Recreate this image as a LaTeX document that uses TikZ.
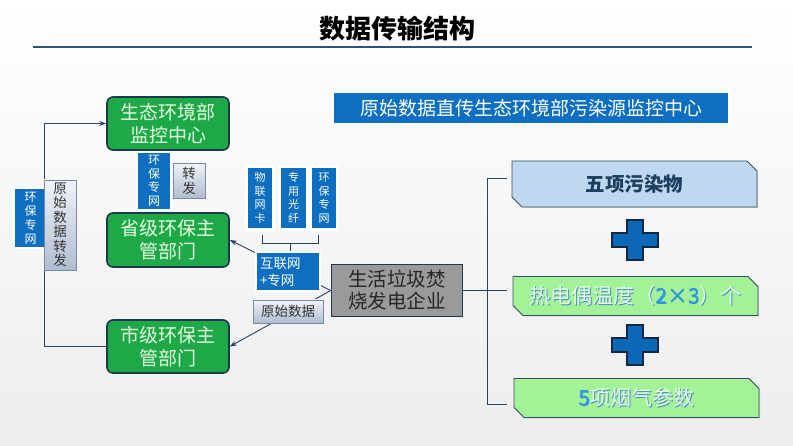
\documentclass[tikz,border=0pt]{standalone}
\usepackage{fontspec}
\newfontfamily\cjk{Noto Sans CJK SC}
\usetikzlibrary{shapes.misc,shadows,arrows.meta,calc}
\definecolor{gfill}{RGB}{30,168,72}
\definecolor{gborder}{RGB}{28,58,76}
\definecolor{gtext}{RGB}{228,255,224}
\definecolor{bfill}{RGB}{14,110,192}
\definecolor{gtop}{RGB}{240,243,249}
\definecolor{gbot}{RGB}{176,188,208}
\definecolor{graybd}{RGB}{120,138,165}
\definecolor{lineblue}{RGB}{40,66,104}
\definecolor{titleline}{RGB}{44,84,120}
\definecolor{grayfill}{RGB}{154,154,154}
\definecolor{lblue}{RGB}{190,216,240}
\definecolor{lgreen}{RGB}{164,242,152}
\definecolor{chbd}{RGB}{50,80,100}
\definecolor{plusfill}{RGB}{12,104,182}
\definecolor{plusbd}{RGB}{20,40,70}
\definecolor{glowblue}{RGB}{70,140,200}
\definecolor{digblue}{RGB}{50,150,225}
\definecolor{darkbluetxt}{RGB}{30,62,96}
\newcommand\gtx[1]{\rlap{\kern0.9pt\raisebox{-0.9pt}{\textcolor{glowblue}{#1}}}#1}
\tikzset{
 greenbox/.style={rounded corners=6pt, fill=gfill, draw=gborder, line width=1.6pt, text=gtext,
   minimum width=122pt, minimum height=53pt, inner sep=0pt, align=center,
   font=\cjk\fontsize{19}{23}\selectfont},
 bluetag/.style={fill=bfill, draw=white, line width=2.2pt, text=white, inner sep=0pt, align=center,
   drop shadow={opacity=0.35,shadow xshift=0.8pt,shadow yshift=-0.8pt}},
 graytag/.style={top color=gtop, bottom color=gbot, draw=graybd, line width=0.8pt, text=black!80,
   inner sep=0pt, align=center, drop shadow={opacity=0.3,shadow xshift=0.8pt,shadow yshift=-0.8pt}},
 conn/.style={draw=lineblue, line width=0.9pt},
 arr/.style={conn, -{Stealth[length=7pt,width=5pt]}},
 chamf/.style={chamfered rectangle, chamfered rectangle corners={north east,south west},
   chamfered rectangle xsep=5pt, chamfered rectangle ysep=5pt, draw=chbd, line width=0.8pt,
   minimum height=#1, minimum width=245pt, inner sep=0pt,
   drop shadow={opacity=0.3,shadow xshift=1pt,shadow yshift=-1pt}},
 plussign/.pic={\path[fill=plusfill, draw=plusbd, line width=1.2pt]
   (-8,-20) -- (8,-20) -- (8,-7) -- (23,-7) -- (23,7) -- (8,7) -- (8,20) -- (-8,20)
   -- (-8,7) -- (-23,7) -- (-23,-7) -- (-8,-7) -- cycle;}
}
\begin{document}
\begin{tikzpicture}[x=1pt,y=-1pt]
\shade[top color=white, bottom color=black!7] (0,0) rectangle (793,446);
\useasboundingbox (0,0) rectangle (793,446);

% title
\node[font=\cjk\bfseries\fontsize{26}{28}\selectfont, text=black] (title) at (397,29) {数据传输结构};
\draw[titleline, line width=2.6pt] (33,47) -- (752,47);

% green boxes
\node[greenbox] (top) at (168,123.5) {生态环境部\\监控中心};
\node[greenbox, minimum height=54pt] (sheng) at (168,240) {省级环保主\\管部门};
\node[greenbox] (shi) at (168,346.5) {市级环保主\\管部门};

% left loop
\coordinate (lc) at (44,346.5);
\draw[arr] (shi.west) -- (lc) |- (top.west);

\node[bluetag, minimum width=33pt, minimum height=60pt, font=\cjk\fontsize{12}{14}\selectfont] (lnet) at (30.5,218) {环\\保\\专\\网};
\node[graytag, minimum width=32pt, minimum height=90pt, font=\cjk\fontsize{13.5}{14.5}\selectfont] (lfwd) at (60,225) {原\\始\\数\\据\\转\\发};

\node[bluetag, minimum width=34pt, minimum height=58pt, font=\cjk\fontsize{12}{13.5}\selectfont] (mnet) at (154,181) {环\\保\\专\\网};
\node[graytag, minimum width=32pt, minimum height=35pt, font=\cjk\fontsize{13.5}{15}\selectfont] (mfwd) at (189,180.5) {转\\发};

% enterprise
\node[fill=grayfill, draw=gborder, line width=1.6pt, text=black!85, minimum width=131pt, minimum height=52pt,
  inner sep=0pt, align=center, font=\cjk\fontsize{19.5}{22}\selectfont] (ent) at (397,290.5) {生活垃圾焚\\烧发电企业};

\draw[arr] (ent.west) -- (sheng.east);
\draw[arr] (ent.west) -- (shi.east);

% three network tags
\node[bluetag, minimum width=27pt, minimum height=63pt, font=\cjk\fontsize{11}{13.5}\selectfont] (n1) at (260,198) {物\\联\\网\\卡};
\node[bluetag, minimum width=28pt, minimum height=63pt, font=\cjk\fontsize{11}{13.5}\selectfont] (n2) at (293.5,198) {专\\用\\光\\纤};
\node[bluetag, minimum width=26pt, minimum height=63pt, font=\cjk\fontsize{11}{13.5}\selectfont] (n3) at (324,198) {环\\保\\专\\网};

\node[bluetag, minimum width=64pt, minimum height=39pt, text width=56pt, align=left,
  font=\cjk\fontsize{13.5}{17}\selectfont] (inet) at (288,271.5) {互联网\\+专网};
\node[graytag, minimum width=70pt, minimum height=23pt, font=\cjk\fontsize{13.5}{15}\selectfont] (raw) at (288,311.5) {原始数据};

% bracket
\coordinate (b1) at (262,235);
\coordinate (b2) at (318,235);
\coordinate (bm) at (290,243);
\draw[conn, line width=0.8pt] (b1) -- (262,243) -- (318,243) -- (b2);
\draw[conn, line width=0.8pt] (bm) -- (bm |- inet.north);

% banner
\node[fill=bfill, draw=white, line width=2.5pt, text=white, minimum width=396pt, minimum height=32pt, inner sep=0pt,
  font=\cjk\fontsize{19}{20}\selectfont,
  drop shadow={opacity=0.35,shadow xshift=1pt,shadow yshift=-1.2pt}] (banner) at (531,108) {原始数据直传生态环境部污染源监控中心};

% right side
\node[chamf=46pt, fill=lblue, text=darkbluetxt, font=\cjk\bfseries\fontsize{19.5}{22}\selectfont] (p5) at (634.5,184) {五项污染物};
\node[chamf=39pt, fill=lgreen, text=gtext, font=\cjk\fontsize{21}{22}\selectfont] (tc) at (635.5,296) {\gtx{热电偶温度（{\color{digblue}2×3}）个}};
\node[chamf=39pt, fill=lgreen, text=gtext, font=\cjk\fontsize{21}{22}\selectfont] (fg) at (636.5,398) {\gtx{{\color{digblue}5}项烟气参数}};

\pic at (635,240) {plussign};
\pic at (635,345) {plussign};

\coordinate (rb) at (487,290.5);
\coordinate (rt) at (487,178);
\coordinate (rbot) at (487,404);
\coordinate (t1) at (507,178);
\coordinate (t2) at (507,290.5);
\coordinate (t3) at (507,404);
\draw[conn] (ent.east) -- (t2);
\draw[conn] (t1) -- (rt) -- (rbot) -- (t3);
\end{tikzpicture}
\end{document}
